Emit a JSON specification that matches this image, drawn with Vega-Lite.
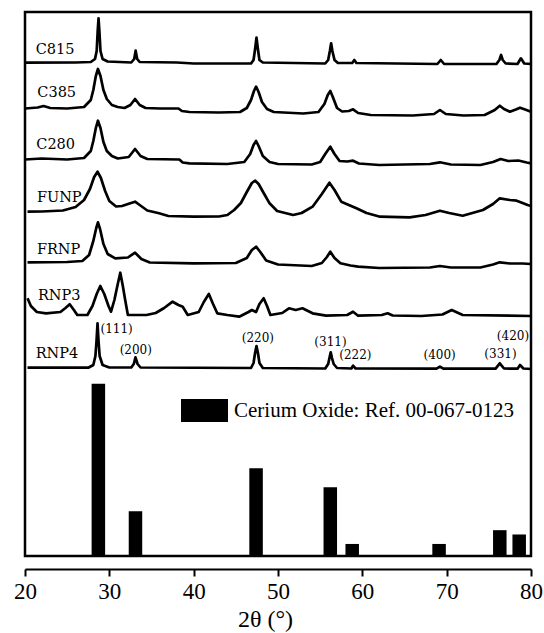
{
  "$schema": "https://vega.github.io/schema/vega-lite/v6.json",
  "width": 506,
  "height": 544,
  "autosize": {"type": "none"},
  "padding": {"left": 25, "top": 12, "right": 13, "bottom": 77},
  "background": "white",
  "config": {
    "view": {"stroke": "black", "strokeWidth": 2.5},
    "axis": {"grid": false},
    "scale": {"continuousPadding": 0}
  },
  "datasets": {
    "patterns": [
      {"sample":"C815","two_theta":20.0,"intensity":493.3},{"sample":"C815","two_theta":26.0,"intensity":493.5},{"sample":"C815","two_theta":27.8,"intensity":494},{"sample":"C815","two_theta":28.3,"intensity":497},{"sample":"C815","two_theta":28.5,"intensity":505},{"sample":"C815","two_theta":28.62,"intensity":525},{"sample":"C815","two_theta":28.72,"intensity":537.7},{"sample":"C815","two_theta":28.82,"intensity":525},{"sample":"C815","two_theta":28.95,"intensity":505},{"sample":"C815","two_theta":29.2,"intensity":497},{"sample":"C815","two_theta":29.8,"intensity":494.5},{"sample":"C815","two_theta":32.6,"intensity":493.5},{"sample":"C815","two_theta":32.95,"intensity":497},{"sample":"C815","two_theta":33.12,"intensity":505.3},{"sample":"C815","two_theta":33.3,"intensity":497},{"sample":"C815","two_theta":33.6,"intensity":494},{"sample":"C815","two_theta":38.0,"intensity":493.5},{"sample":"C815","two_theta":40.0,"intensity":492.5},{"sample":"C815","two_theta":46.8,"intensity":492.5},{"sample":"C815","two_theta":47.1,"intensity":496},{"sample":"C815","two_theta":47.3,"intensity":508},{"sample":"C815","two_theta":47.45,"intensity":518.3},{"sample":"C815","two_theta":47.6,"intensity":508},{"sample":"C815","two_theta":47.8,"intensity":496},{"sample":"C815","two_theta":48.2,"intensity":493.5},{"sample":"C815","two_theta":55.6,"intensity":492.5},{"sample":"C815","two_theta":55.95,"intensity":496},{"sample":"C815","two_theta":56.15,"intensity":505},{"sample":"C815","two_theta":56.3,"intensity":512.7},{"sample":"C815","two_theta":56.45,"intensity":505},{"sample":"C815","two_theta":56.7,"intensity":496},{"sample":"C815","two_theta":57.1,"intensity":493},{"sample":"C815","two_theta":58.8,"intensity":493},{"sample":"C815","two_theta":59.05,"intensity":496},{"sample":"C815","two_theta":59.3,"intensity":493},{"sample":"C815","two_theta":68.9,"intensity":492},{"sample":"C815","two_theta":69.3,"intensity":496},{"sample":"C815","two_theta":69.7,"intensity":492},{"sample":"C815","two_theta":75.9,"intensity":492},{"sample":"C815","two_theta":76.25,"intensity":496},{"sample":"C815","two_theta":76.45,"intensity":501},{"sample":"C815","two_theta":76.65,"intensity":496},{"sample":"C815","two_theta":77.0,"intensity":492.5},{"sample":"C815","two_theta":78.4,"intensity":492},{"sample":"C815","two_theta":78.8,"intensity":497.7},{"sample":"C815","two_theta":79.2,"intensity":492.5},{"sample":"C815","two_theta":80.0,"intensity":492},

      {"sample":"C385","two_theta":20.0,"intensity":447.5},{"sample":"C385","two_theta":21.5,"intensity":448.5},{"sample":"C385","two_theta":22.2,"intensity":450},{"sample":"C385","two_theta":23.0,"intensity":448},{"sample":"C385","two_theta":25.0,"intensity":447.5},{"sample":"C385","two_theta":27.0,"intensity":449},{"sample":"C385","two_theta":27.8,"intensity":456},{"sample":"C385","two_theta":28.1,"intensity":466},{"sample":"C385","two_theta":28.4,"intensity":480},{"sample":"C385","two_theta":28.65,"intensity":487},{"sample":"C385","two_theta":28.95,"intensity":480},{"sample":"C385","two_theta":29.3,"intensity":466},{"sample":"C385","two_theta":29.7,"intensity":457},{"sample":"C385","two_theta":30.3,"intensity":451},{"sample":"C385","two_theta":31.0,"intensity":449},{"sample":"C385","two_theta":31.8,"intensity":448},{"sample":"C385","two_theta":32.5,"intensity":451},{"sample":"C385","two_theta":33.05,"intensity":457},{"sample":"C385","two_theta":33.6,"intensity":451},{"sample":"C385","two_theta":34.3,"intensity":448},{"sample":"C385","two_theta":36.0,"intensity":447.5},{"sample":"C385","two_theta":38.2,"intensity":447.5},{"sample":"C385","two_theta":38.6,"intensity":445},{"sample":"C385","two_theta":39.5,"intensity":444},{"sample":"C385","two_theta":43.0,"intensity":443.5},{"sample":"C385","two_theta":45.5,"intensity":444},{"sample":"C385","two_theta":46.3,"intensity":448},{"sample":"C385","two_theta":46.8,"intensity":456},{"sample":"C385","two_theta":47.15,"intensity":465},{"sample":"C385","two_theta":47.4,"intensity":469.3},{"sample":"C385","two_theta":47.7,"intensity":464},{"sample":"C385","two_theta":48.1,"intensity":454},{"sample":"C385","two_theta":48.7,"intensity":447},{"sample":"C385","two_theta":49.5,"intensity":444},{"sample":"C385","two_theta":53.0,"intensity":442.5},{"sample":"C385","two_theta":54.8,"intensity":444},{"sample":"C385","two_theta":55.5,"intensity":452},{"sample":"C385","two_theta":55.9,"intensity":461},{"sample":"C385","two_theta":56.2,"intensity":465},{"sample":"C385","two_theta":56.5,"intensity":459},{"sample":"C385","two_theta":57.0,"intensity":448},{"sample":"C385","two_theta":57.6,"intensity":444.5},{"sample":"C385","two_theta":58.4,"intensity":445},{"sample":"C385","two_theta":58.9,"intensity":446.7},{"sample":"C385","two_theta":59.5,"intensity":443},{"sample":"C385","two_theta":61.0,"intensity":441},{"sample":"C385","two_theta":66.0,"intensity":440.5},{"sample":"C385","two_theta":68.5,"intensity":442},{"sample":"C385","two_theta":69.2,"intensity":446},{"sample":"C385","two_theta":69.9,"intensity":442},{"sample":"C385","two_theta":72.0,"intensity":440.5},{"sample":"C385","two_theta":74.5,"intensity":441},{"sample":"C385","two_theta":75.7,"intensity":446},{"sample":"C385","two_theta":76.3,"intensity":450.3},{"sample":"C385","two_theta":76.8,"intensity":447},{"sample":"C385","two_theta":77.5,"intensity":444.3},{"sample":"C385","two_theta":78.2,"intensity":446.5},{"sample":"C385","two_theta":78.7,"intensity":448.3},{"sample":"C385","two_theta":79.3,"intensity":446.5},{"sample":"C385","two_theta":80.0,"intensity":444.3},

      {"sample":"C280","two_theta":20.0,"intensity":396.5},{"sample":"C280","two_theta":22.0,"intensity":397.5},{"sample":"C280","two_theta":25.0,"intensity":396.5},{"sample":"C280","two_theta":27.0,"intensity":398},{"sample":"C280","two_theta":27.8,"intensity":405},{"sample":"C280","two_theta":28.1,"intensity":415},{"sample":"C280","two_theta":28.4,"intensity":428},{"sample":"C280","two_theta":28.65,"intensity":435.3},{"sample":"C280","two_theta":28.95,"intensity":428},{"sample":"C280","two_theta":29.3,"intensity":414},{"sample":"C280","two_theta":29.7,"intensity":405},{"sample":"C280","two_theta":30.3,"intensity":400},{"sample":"C280","two_theta":31.0,"intensity":397.5},{"sample":"C280","two_theta":32.3,"intensity":399},{"sample":"C280","two_theta":33.05,"intensity":407},{"sample":"C280","two_theta":33.7,"intensity":400},{"sample":"C280","two_theta":34.5,"intensity":397},{"sample":"C280","two_theta":38.3,"intensity":396.5},{"sample":"C280","two_theta":38.7,"intensity":393.5},{"sample":"C280","two_theta":39.5,"intensity":392.7},{"sample":"C280","two_theta":44.0,"intensity":392},{"sample":"C280","two_theta":46.0,"intensity":394},{"sample":"C280","two_theta":46.7,"intensity":402},{"sample":"C280","two_theta":47.1,"intensity":411},{"sample":"C280","two_theta":47.4,"intensity":415},{"sample":"C280","two_theta":47.7,"intensity":410},{"sample":"C280","two_theta":48.2,"intensity":400},{"sample":"C280","two_theta":49.0,"intensity":394},{"sample":"C280","two_theta":50.0,"intensity":392},{"sample":"C280","two_theta":54.0,"intensity":391.5},{"sample":"C280","two_theta":55.0,"intensity":394},{"sample":"C280","two_theta":55.6,"intensity":402},{"sample":"C280","two_theta":56.2,"intensity":409.3},{"sample":"C280","two_theta":56.7,"intensity":402},{"sample":"C280","two_theta":57.3,"intensity":395},{"sample":"C280","two_theta":58.2,"intensity":394.5},{"sample":"C280","two_theta":58.9,"intensity":395.3},{"sample":"C280","two_theta":59.6,"intensity":392.5},{"sample":"C280","two_theta":62.0,"intensity":391},{"sample":"C280","two_theta":68.0,"intensity":392},{"sample":"C280","two_theta":69.2,"intensity":393.7},{"sample":"C280","two_theta":70.5,"intensity":391.5},{"sample":"C280","two_theta":74.0,"intensity":391},{"sample":"C280","two_theta":75.5,"intensity":394},{"sample":"C280","two_theta":76.4,"intensity":397},{"sample":"C280","two_theta":77.3,"intensity":395},{"sample":"C280","two_theta":78.5,"intensity":395.5},{"sample":"C280","two_theta":79.5,"intensity":393.5},{"sample":"C280","two_theta":80.0,"intensity":392.7},

      {"sample":"FUNP","two_theta":20.3,"intensity":344.3},{"sample":"FUNP","two_theta":22.0,"intensity":344.5},{"sample":"FUNP","two_theta":24.5,"intensity":345.5},{"sample":"FUNP","two_theta":26.0,"intensity":349},{"sample":"FUNP","two_theta":27.0,"intensity":356},{"sample":"FUNP","two_theta":27.7,"intensity":367},{"sample":"FUNP","two_theta":28.2,"intensity":379},{"sample":"FUNP","two_theta":28.6,"intensity":384.3},{"sample":"FUNP","two_theta":29.0,"intensity":378},{"sample":"FUNP","two_theta":29.5,"intensity":365},{"sample":"FUNP","two_theta":30.0,"intensity":355},{"sample":"FUNP","two_theta":30.8,"intensity":349.5},{"sample":"FUNP","two_theta":31.5,"intensity":350},{"sample":"FUNP","two_theta":32.4,"intensity":352.5},{"sample":"FUNP","two_theta":33.05,"intensity":354.3},{"sample":"FUNP","two_theta":33.6,"intensity":351},{"sample":"FUNP","two_theta":34.5,"intensity":345.5},{"sample":"FUNP","two_theta":35.9,"intensity":342.7},{"sample":"FUNP","two_theta":37.0,"intensity":340},{"sample":"FUNP","two_theta":40.0,"intensity":339.3},{"sample":"FUNP","two_theta":43.0,"intensity":339.5},{"sample":"FUNP","two_theta":44.0,"intensity":341},{"sample":"FUNP","two_theta":44.8,"intensity":346},{"sample":"FUNP","two_theta":45.6,"intensity":353},{"sample":"FUNP","two_theta":46.3,"intensity":364},{"sample":"FUNP","two_theta":46.9,"intensity":373},{"sample":"FUNP","two_theta":47.3,"intensity":375.3},{"sample":"FUNP","two_theta":47.7,"intensity":372},{"sample":"FUNP","two_theta":48.3,"intensity":363},{"sample":"FUNP","two_theta":49.0,"intensity":352.7},{"sample":"FUNP","two_theta":49.9,"intensity":345},{"sample":"FUNP","two_theta":51.8,"intensity":341},{"sample":"FUNP","two_theta":52.8,"intensity":343},{"sample":"FUNP","two_theta":54.1,"intensity":349.3},{"sample":"FUNP","two_theta":55.2,"intensity":362},{"sample":"FUNP","two_theta":56.1,"intensity":373.3},{"sample":"FUNP","two_theta":56.7,"intensity":366},{"sample":"FUNP","two_theta":57.5,"intensity":354.3},{"sample":"FUNP","two_theta":59.3,"intensity":347.7},{"sample":"FUNP","two_theta":60.5,"intensity":343},{"sample":"FUNP","two_theta":62.1,"intensity":339.3},{"sample":"FUNP","two_theta":65.6,"intensity":338.7},{"sample":"FUNP","two_theta":67.5,"intensity":341},{"sample":"FUNP","two_theta":69.2,"intensity":345.3},{"sample":"FUNP","two_theta":70.3,"intensity":343},{"sample":"FUNP","two_theta":71.9,"intensity":340.3},{"sample":"FUNP","two_theta":74.3,"intensity":346},{"sample":"FUNP","two_theta":75.5,"intensity":352},{"sample":"FUNP","two_theta":76.3,"intensity":357.7},{"sample":"FUNP","two_theta":77.5,"intensity":356},{"sample":"FUNP","two_theta":78.3,"intensity":355.3},{"sample":"FUNP","two_theta":79.0,"intensity":353},{"sample":"FUNP","two_theta":79.6,"intensity":351},{"sample":"FUNP","two_theta":80.0,"intensity":350},

      {"sample":"FRNP","two_theta":20.3,"intensity":293.7},{"sample":"FRNP","two_theta":25.0,"intensity":294},{"sample":"FRNP","two_theta":26.8,"intensity":295},{"sample":"FRNP","two_theta":27.6,"intensity":301},{"sample":"FRNP","two_theta":28.1,"intensity":315},{"sample":"FRNP","two_theta":28.45,"intensity":328},{"sample":"FRNP","two_theta":28.65,"intensity":333.7},{"sample":"FRNP","two_theta":28.9,"intensity":327},{"sample":"FRNP","two_theta":29.3,"intensity":312},{"sample":"FRNP","two_theta":29.8,"intensity":302},{"sample":"FRNP","two_theta":30.7,"intensity":297.7},{"sample":"FRNP","two_theta":32.2,"intensity":298.5},{"sample":"FRNP","two_theta":33.05,"intensity":303.3},{"sample":"FRNP","two_theta":33.8,"intensity":297},{"sample":"FRNP","two_theta":34.8,"intensity":293.5},{"sample":"FRNP","two_theta":40.0,"intensity":292.7},{"sample":"FRNP","two_theta":45.0,"intensity":293},{"sample":"FRNP","two_theta":46.3,"intensity":298},{"sample":"FRNP","two_theta":46.9,"intensity":306},{"sample":"FRNP","two_theta":47.4,"intensity":309.3},{"sample":"FRNP","two_theta":47.9,"intensity":304},{"sample":"FRNP","two_theta":48.6,"intensity":295.5},{"sample":"FRNP","two_theta":50.0,"intensity":291.5},{"sample":"FRNP","two_theta":54.0,"intensity":290},{"sample":"FRNP","two_theta":55.2,"intensity":293},{"sample":"FRNP","two_theta":55.8,"intensity":299},{"sample":"FRNP","two_theta":56.2,"intensity":304.3},{"sample":"FRNP","two_theta":56.7,"intensity":298},{"sample":"FRNP","two_theta":57.4,"intensity":292.7},{"sample":"FRNP","two_theta":58.6,"intensity":290.5},{"sample":"FRNP","two_theta":59.5,"intensity":289.3},{"sample":"FRNP","two_theta":62.0,"intensity":288},{"sample":"FRNP","two_theta":68.0,"intensity":288.5},{"sample":"FRNP","two_theta":69.2,"intensity":290},{"sample":"FRNP","two_theta":70.5,"intensity":288.5},{"sample":"FRNP","two_theta":74.0,"intensity":288.5},{"sample":"FRNP","two_theta":75.5,"intensity":291.5},{"sample":"FRNP","two_theta":76.3,"intensity":293.7},{"sample":"FRNP","two_theta":77.5,"intensity":292.5},{"sample":"FRNP","two_theta":79.0,"intensity":292.5},{"sample":"FRNP","two_theta":80.0,"intensity":292},

      {"sample":"RNP3","two_theta":20.3,"intensity":257.7},{"sample":"RNP3","two_theta":20.7,"intensity":250},{"sample":"RNP3","two_theta":21.4,"intensity":244},{"sample":"RNP3","two_theta":22.5,"intensity":242.7},{"sample":"RNP3","two_theta":24.2,"intensity":244},{"sample":"RNP3","two_theta":24.8,"intensity":248},{"sample":"RNP3","two_theta":25.3,"intensity":251.7},{"sample":"RNP3","two_theta":25.8,"intensity":246},{"sample":"RNP3","two_theta":26.2,"intensity":241},{"sample":"RNP3","two_theta":27.4,"intensity":241},{"sample":"RNP3","two_theta":28.0,"intensity":250},{"sample":"RNP3","two_theta":28.5,"intensity":262},{"sample":"RNP3","two_theta":28.93,"intensity":270},{"sample":"RNP3","two_theta":29.4,"intensity":262},{"sample":"RNP3","two_theta":29.9,"intensity":250},{"sample":"RNP3","two_theta":30.2,"intensity":244.3},{"sample":"RNP3","two_theta":30.6,"intensity":256},{"sample":"RNP3","two_theta":31.0,"intensity":272},{"sample":"RNP3","two_theta":31.3,"intensity":283.3},{"sample":"RNP3","two_theta":31.6,"intensity":270},{"sample":"RNP3","two_theta":31.9,"intensity":255},{"sample":"RNP3","two_theta":32.2,"intensity":241},{"sample":"RNP3","two_theta":34.4,"intensity":241},{"sample":"RNP3","two_theta":35.5,"intensity":243},{"sample":"RNP3","two_theta":36.5,"intensity":248},{"sample":"RNP3","two_theta":37.5,"intensity":254.3},{"sample":"RNP3","two_theta":38.2,"intensity":251},{"sample":"RNP3","two_theta":38.7,"intensity":249.3},{"sample":"RNP3","two_theta":39.3,"intensity":241},{"sample":"RNP3","two_theta":40.6,"intensity":244},{"sample":"RNP3","two_theta":41.2,"intensity":254},{"sample":"RNP3","two_theta":41.8,"intensity":262},{"sample":"RNP3","two_theta":42.3,"intensity":252},{"sample":"RNP3","two_theta":42.8,"intensity":242.7},{"sample":"RNP3","two_theta":44.0,"intensity":241},{"sample":"RNP3","two_theta":45.4,"intensity":239.3},{"sample":"RNP3","two_theta":46.5,"intensity":244},{"sample":"RNP3","two_theta":46.9,"intensity":246},{"sample":"RNP3","two_theta":47.4,"intensity":244},{"sample":"RNP3","two_theta":47.8,"intensity":252},{"sample":"RNP3","two_theta":48.3,"intensity":257.7},{"sample":"RNP3","two_theta":48.7,"intensity":250},{"sample":"RNP3","two_theta":49.1,"intensity":241},{"sample":"RNP3","two_theta":50.5,"intensity":243},{"sample":"RNP3","two_theta":51.3,"intensity":247.7},{"sample":"RNP3","two_theta":52.1,"intensity":246},{"sample":"RNP3","two_theta":52.9,"intensity":247.7},{"sample":"RNP3","two_theta":54.1,"intensity":242.7},{"sample":"RNP3","two_theta":55.7,"intensity":240.3},{"sample":"RNP3","two_theta":58.2,"intensity":241},{"sample":"RNP3","two_theta":58.9,"intensity":244.3},{"sample":"RNP3","two_theta":59.5,"intensity":240.3},{"sample":"RNP3","two_theta":62.3,"intensity":241},{"sample":"RNP3","two_theta":63.0,"intensity":242.7},{"sample":"RNP3","two_theta":63.6,"intensity":240.5},{"sample":"RNP3","two_theta":67.0,"intensity":240},{"sample":"RNP3","two_theta":69.5,"intensity":241.5},{"sample":"RNP3","two_theta":70.6,"intensity":246},{"sample":"RNP3","two_theta":71.9,"intensity":241},{"sample":"RNP3","two_theta":80.0,"intensity":240},

      {"sample":"RNP4","two_theta":20.3,"intensity":188.3},{"sample":"RNP4","two_theta":27.5,"intensity":188.3},{"sample":"RNP4","two_theta":28.1,"intensity":191},{"sample":"RNP4","two_theta":28.35,"intensity":200},{"sample":"RNP4","two_theta":28.48,"intensity":215},{"sample":"RNP4","two_theta":28.6,"intensity":232.7},{"sample":"RNP4","two_theta":28.72,"intensity":215},{"sample":"RNP4","two_theta":28.85,"intensity":200},{"sample":"RNP4","two_theta":29.2,"intensity":191},{"sample":"RNP4","two_theta":30.0,"intensity":188.5},{"sample":"RNP4","two_theta":32.6,"intensity":188.5},{"sample":"RNP4","two_theta":32.9,"intensity":192},{"sample":"RNP4","two_theta":33.1,"intensity":198.7},{"sample":"RNP4","two_theta":33.35,"intensity":192},{"sample":"RNP4","two_theta":33.7,"intensity":188.5},{"sample":"RNP4","two_theta":46.8,"intensity":188},{"sample":"RNP4","two_theta":47.1,"intensity":193},{"sample":"RNP4","two_theta":47.28,"intensity":203},{"sample":"RNP4","two_theta":47.45,"intensity":210},{"sample":"RNP4","two_theta":47.62,"intensity":203},{"sample":"RNP4","two_theta":47.8,"intensity":193},{"sample":"RNP4","two_theta":48.2,"intensity":188},{"sample":"RNP4","two_theta":55.6,"intensity":187.5},{"sample":"RNP4","two_theta":55.95,"intensity":192},{"sample":"RNP4","two_theta":56.1,"intensity":198},{"sample":"RNP4","two_theta":56.25,"intensity":203.7},{"sample":"RNP4","two_theta":56.4,"intensity":198},{"sample":"RNP4","two_theta":56.6,"intensity":192},{"sample":"RNP4","two_theta":57.0,"intensity":188},{"sample":"RNP4","two_theta":58.7,"intensity":187.5},{"sample":"RNP4","two_theta":58.9,"intensity":190.3},{"sample":"RNP4","two_theta":59.2,"intensity":187.5},{"sample":"RNP4","two_theta":68.8,"intensity":187.3},{"sample":"RNP4","two_theta":69.2,"intensity":189.3},{"sample":"RNP4","two_theta":69.6,"intensity":187.3},{"sample":"RNP4","two_theta":75.8,"intensity":187.3},{"sample":"RNP4","two_theta":76.3,"intensity":192.7},{"sample":"RNP4","two_theta":76.8,"intensity":187.5},{"sample":"RNP4","two_theta":78.4,"intensity":187.3},{"sample":"RNP4","two_theta":78.7,"intensity":191},{"sample":"RNP4","two_theta":79.1,"intensity":187.5},{"sample":"RNP4","two_theta":80.0,"intensity":187}
    ],
    "reference": [
      {"phase":"Cerium Oxide: Ref. 00-067-0123","two_theta":28.7,"rel_intensity":100},
      {"phase":"Cerium Oxide: Ref. 00-067-0123","two_theta":33.1,"rel_intensity":26},
      {"phase":"Cerium Oxide: Ref. 00-067-0123","two_theta":47.4,"rel_intensity":51},
      {"phase":"Cerium Oxide: Ref. 00-067-0123","two_theta":56.2,"rel_intensity":40},
      {"phase":"Cerium Oxide: Ref. 00-067-0123","two_theta":58.8,"rel_intensity":7},
      {"phase":"Cerium Oxide: Ref. 00-067-0123","two_theta":69.1,"rel_intensity":7},
      {"phase":"Cerium Oxide: Ref. 00-067-0123","two_theta":76.3,"rel_intensity":15},
      {"phase":"Cerium Oxide: Ref. 00-067-0123","two_theta":78.6,"rel_intensity":12.5}
    ],
    "sample_labels": [
      {"label":"C815","two_theta":21.26,"intensity":505.7},
      {"label":"C385","two_theta":21.46,"intensity":463.2},
      {"label":"C280","two_theta":21.34,"intensity":410.7},
      {"label":"FUNP","two_theta":21.41,"intensity":358.2},
      {"label":"FRNP","two_theta":21.41,"intensity":306},
      {"label":"RNP3","two_theta":21.53,"intensity":260.2},
      {"label":"RNP4","two_theta":21.26,"intensity":202}
    ],
    "hkl": [
      {"label":"(111)","two_theta":30.86,"intensity":227},
      {"label":"(200)","two_theta":33.14,"intensity":206.3},
      {"label":"(220)","two_theta":47.62,"intensity":218.3},
      {"label":"(311)","two_theta":56.22,"intensity":213.7},
      {"label":"(222)","two_theta":59.18,"intensity":200.7},
      {"label":"(400)","two_theta":69.17,"intensity":200.7},
      {"label":"(331)","two_theta":76.38,"intensity":202.3},
      {"label":"(420)","two_theta":77.86,"intensity":219.7}
    ]
  },
  "layer": [
    {
      "data": {"name": "reference"},
      "mark": {"type": "bar", "size": 13.5},
      "encoding": {
        "x": {
          "field": "two_theta", "type": "quantitative",
          "scale": {"domain": [20, 80], "nice": false, "zero": false, "padding": 0},
          "axis": {
            "title": "2θ (°)",
            "values": [20, 30, 40, 50, 60, 70, 80],
            "offset": 13,
            "domainColor": "black", "domainWidth": 2,
            "tickColor": "black", "tickWidth": 2, "tickSize": 7,
            "labelFont": "Liberation Serif", "labelFontSize": 23, "labelColor": "black",
            "labelPadding": 4, "labelFlush": false, "labelAlign": "center",
            "titleFont": "Liberation Serif", "titleFontSize": 24, "titleFontWeight": "normal",
            "titleColor": "black", "titlePadding": 4,
            "titleAnchor": "start", "titleAlign": "center", "titleX": 240,
            "encode": {
              "ticks": {
                "update": {
                  "y": [
                    {"test": "datum.value === 20 || datum.value === 80", "value": -8},
                    {"value": 0}
                  ]
                }
              }
            }
          }
        },
        "y": {
          "field": "rel_intensity", "type": "quantitative",
          "scale": {"domain": [0, 316], "nice": false},
          "axis": null
        },
        "color": {
          "field": "phase", "type": "nominal",
          "scale": {"range": ["black"]},
          "legend": {
            "title": null,
            "orient": "none",
            "legendX": 156,
            "legendY": 375,
            "padding": 0,
            "symbolType": "M-1,-0.49H1V0.49H-1Z",
            "symbolSize": 2209,
            "symbolStrokeWidth": 0,
            "symbolFillColor": "black",
            "symbolOpacity": 1,
            "labelFont": "Liberation Serif",
            "labelFontSize": 21,
            "labelColor": "black",
            "labelOffset": 6,
            "labelLimit": 400
          }
        }
      }
    },
    {
      "data": {"name": "patterns"},
      "mark": {"type": "line", "color": "black", "strokeWidth": 2.7, "strokeJoin": "round"},
      "encoding": {
        "x": {"field": "two_theta", "type": "quantitative", "scale": {"domain": [20, 80], "nice": false, "zero": false, "padding": 0}},
        "y": {"field": "intensity", "type": "quantitative", "scale": {"domain": [0, 544], "nice": false}, "axis": null},
        "detail": {"field": "sample", "type": "nominal"}
      }
    },
    {
      "data": {"name": "sample_labels"},
      "mark": {"type": "text", "align": "left", "baseline": "middle", "font": "DejaVu Serif", "fontSize": 14.5, "color": "black"},
      "encoding": {
        "x": {"field": "two_theta", "type": "quantitative", "scale": {"domain": [20, 80], "nice": false, "zero": false, "padding": 0}},
        "y": {"field": "intensity", "type": "quantitative", "scale": {"domain": [0, 544], "nice": false}, "axis": null},
        "text": {"field": "label"}
      }
    },
    {
      "data": {"name": "hkl"},
      "mark": {"type": "text", "align": "center", "baseline": "middle", "font": "DejaVu Serif", "fontSize": 12, "color": "black"},
      "encoding": {
        "x": {"field": "two_theta", "type": "quantitative", "scale": {"domain": [20, 80], "nice": false, "zero": false, "padding": 0}},
        "y": {"field": "intensity", "type": "quantitative", "scale": {"domain": [0, 544], "nice": false}, "axis": null},
        "text": {"field": "label"}
      }
    }
  ],
  "resolve": {"scale": {"y": "independent"}}
}
